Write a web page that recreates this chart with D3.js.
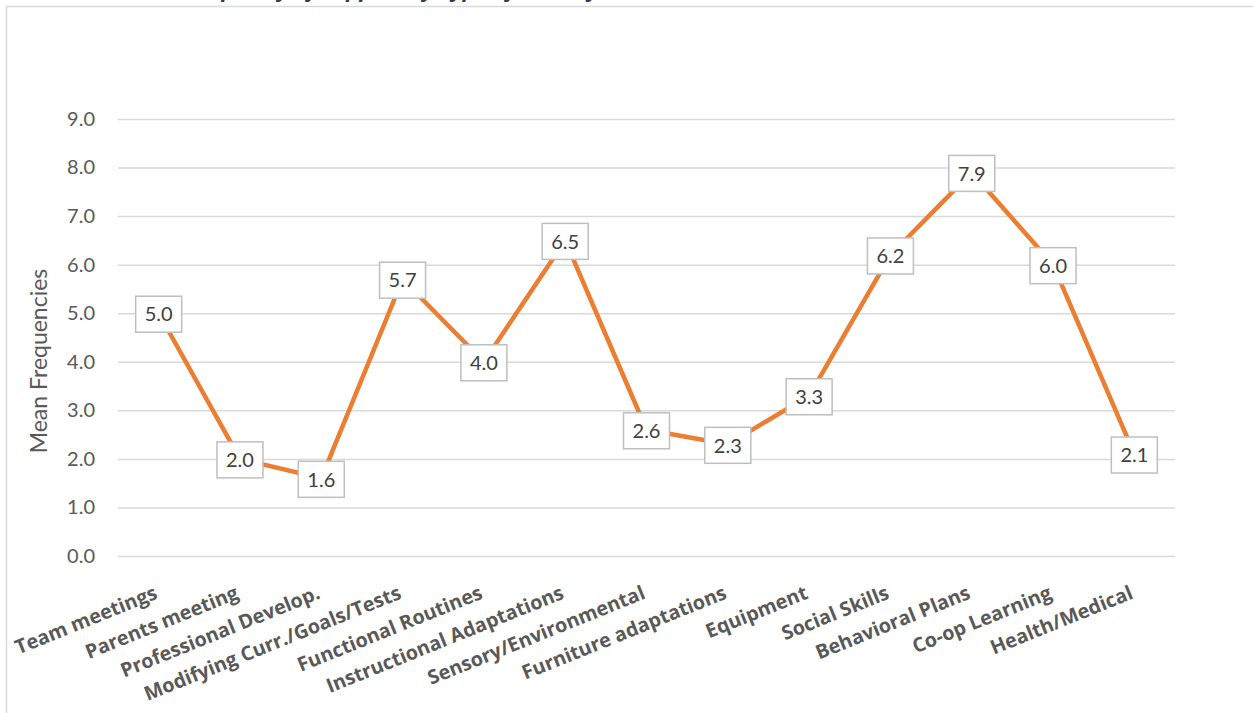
<!DOCTYPE html>
<html>
<head>
<meta charset="utf-8">
<script src="https://cdn.jsdelivr.net/npm/d3@7"></script>
<style>
  html, body { margin: 0; padding: 0; background: #fff; }
  svg { display: block; }
</style>
</head>
<body>
<svg id="chart" width="1253" height="713"></svg>
<script>
// Mean frequency of each support activity
const categories = [
  "Team meetings", "Parents meeting", "Professional Develop.",
  "Modifying Curr./Goals/Tests", "Functional Routines", "Instructional Adaptations",
  "Sensory/Environmental", "Furniture adaptations", "Equipment",
  "Social Skills", "Behavioral Plans", "Co-op Learning", "Health/Medical"
];
const meanValues = [5.0, 2.0, 1.6, 5.7, 4.0, 6.5, 2.6, 2.3, 3.3, 6.2, 7.9, 6.0, 2.1];
const yTicks = [0, 1, 2, 3, 4, 5, 6, 7, 8, 9];
const yTitle = "Mean Frequencies";
const chartTitle = "Mean Frequency of Support by Type of Activity";

const svg = d3.select("#chart");
const W = 1253, H = 713;
const plot = { left: 118, right: 1175, top: 119, bottom: 556 };

// Chart frame (extends past the right and bottom edges)
svg.append("rect")
  .attr("x", 6.5).attr("y", 6.5)
  .attr("width", W + 10).attr("height", H + 10)
  .attr("fill", "#fff").attr("stroke", "#d9d9d9").attr("stroke-width", 1.5);

// Heading sitting above the frame, only its descenders reach the view
svg.append("text")
  .attr("x", 118).attr("y", -3)
  .attr("font-family", "Open Sans, sans-serif")
  .attr("font-size", 22).attr("font-weight", "bold").attr("font-style", "italic")
  .attr("fill", "#2f3c58")
  .text(chartTitle);

const x = d3.scaleBand().domain(categories).range([plot.left, plot.right]).padding(0);
const y = d3.scaleLinear().domain([0, 9]).range([plot.bottom, plot.top]);

// Gridlines + y tick labels
const yAxis = d3.axisLeft(y).tickValues(yTicks)
  .tickSize(-(plot.right - plot.left)).tickFormat(d3.format(".1f")).tickPadding(23);
const gy = svg.append("g").attr("transform", `translate(${plot.left},0)`).call(yAxis);
gy.select(".domain").remove();
gy.selectAll(".tick line").attr("stroke", "#d9d9d9").attr("stroke-width", 1.5);
gy.selectAll(".tick text")
  .attr("font-family", "Lato, sans-serif").attr("font-size", 20).attr("fill", "#595959");

// Y axis title
svg.append("text")
  .attr("transform", `translate(47,361) rotate(-90)`)
  .attr("text-anchor", "middle")
  .attr("font-family", "Lato, sans-serif").attr("font-size", 23).attr("fill", "#595959")
  .text(yTitle);

// Category labels, rotated
const cx = d => x(d) + x.bandwidth() / 2;
svg.append("g").selectAll("text").data(categories).join("text")
  .attr("transform", d => `translate(${cx(d)},${plot.bottom + 42}) rotate(-22)`)
  .attr("text-anchor", "end")
  .attr("font-family", "Open Sans, sans-serif").attr("font-size", 19.8).attr("font-weight", 700)
  .attr("fill", "#595959")
  .text(d => d);

// Line
const line = d3.line().x((d, i) => cx(categories[i])).y(d => y(d));
svg.append("path").datum(meanValues)
  .attr("d", line)
  .attr("fill", "none").attr("stroke", "#ed7d31").attr("stroke-width", 4.5)
  .attr("stroke-linejoin", "round");

// Value labels in boxes
const lbl = svg.append("g").selectAll("g").data(meanValues).join("g")
  .attr("transform", (d, i) => `translate(${cx(categories[i])},${y(d) + 1})`);
lbl.append("rect")
  .attr("x", -23).attr("y", -18).attr("width", 46).attr("height", 36)
  .attr("fill", "#fff").attr("stroke", "#bfbfbf").attr("stroke-width", 1.5);
lbl.append("text")
  .attr("text-anchor", "middle").attr("dy", "0.36em")
  .attr("font-family", "Lato, sans-serif").attr("font-size", 20).attr("fill", "#404040")
  .text(d => d3.format(".1f")(d));
</script>
</body>
</html>
